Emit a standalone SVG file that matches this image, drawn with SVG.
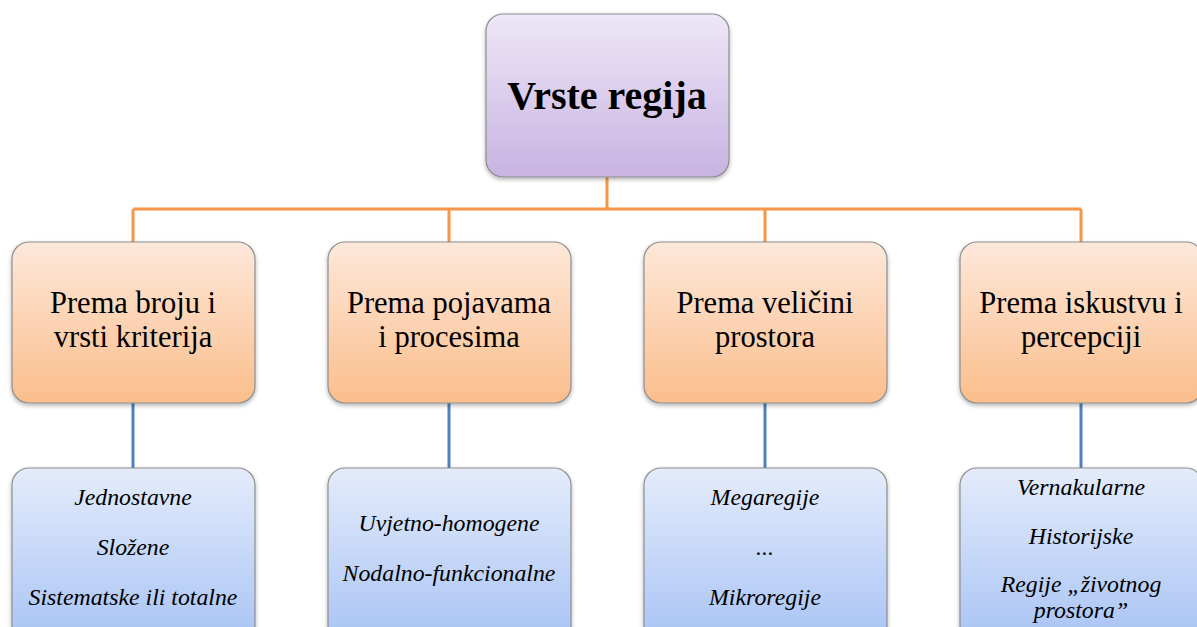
<svg xmlns="http://www.w3.org/2000/svg" width="1197" height="627" viewBox="0 0 1197 627">
<defs>
<linearGradient id="gP" x1="0" y1="0" x2="0" y2="1"><stop offset="0" stop-color="#EEE7F7"/><stop offset="1" stop-color="#C8B3E2"/></linearGradient>
<linearGradient id="gO" x1="0" y1="0" x2="0" y2="1"><stop offset="0" stop-color="#FDE8DA"/><stop offset="1" stop-color="#FBBE8C"/></linearGradient>
<linearGradient id="gB" x1="0" y1="0" x2="0" y2="1"><stop offset="0" stop-color="#E4ECFB"/><stop offset="1" stop-color="#A8C3F4"/></linearGradient>
<filter id="sh" x="-10%" y="-10%" width="120%" height="125%"><feDropShadow dx="0" dy="2" stdDeviation="2" flood-color="#000" flood-opacity="0.3"/></filter>
</defs>
<style>
.box{stroke:#8E8E8E;stroke-width:1.2;filter:url(#sh)}
text{font-family:"Liberation Serif","Times New Roman",serif;fill:#000;text-anchor:middle}
.t1{font-weight:bold;font-size:40px}
.t2{font-size:30.5px}
.t3{font-style:italic;font-size:23.8px}
.co{stroke:#F79646;stroke-width:3;fill:none}
.cb{stroke:#4F81BD;stroke-width:3;fill:none}
</style>
<rect width="1197" height="627" fill="#fff"/>
<g id="connectors">
<path class="co" d="M607 177V209M133 209H1081M133 209V242M449 209V242M765 209V242M1081 209V242"/>
<path class="cb" d="M133 403V468M449 403V468M765 403V468M1081 403V468"/>
</g>
<g id="root"><rect class="box" x="486" y="14" width="243" height="163" rx="17" fill="url(#gP)"/><text class="t1" x="607" y="109">Vrste regija</text></g>
<g id="n1"><rect class="box" x="12" y="242" width="243" height="161" rx="17" fill="url(#gO)"/><text class="t2" x="133" y="313">Prema broju i</text><text class="t2" x="133" y="347">vrsti kriterija</text></g>
<g id="n2"><rect class="box" x="328" y="242" width="243" height="161" rx="17" fill="url(#gO)"/><text class="t2" x="449" y="313">Prema pojavama</text><text class="t2" x="449" y="347">i procesima</text></g>
<g id="n3"><rect class="box" x="644" y="242" width="243" height="161" rx="17" fill="url(#gO)"/><text class="t2" x="765" y="313">Prema veličini</text><text class="t2" x="765" y="347">prostora</text></g>
<g id="n4"><rect class="box" x="960" y="242" width="243" height="161" rx="17" fill="url(#gO)"/><text class="t2" x="1081" y="313">Prema iskustvu i</text><text class="t2" x="1081" y="347">percepciji</text></g>
<g id="l1"><rect class="box" x="12" y="468" width="243" height="175" rx="17" fill="url(#gB)"/><text class="t3" x="133" y="505">Jednostavne</text><text class="t3" x="133" y="555">Složene</text><text class="t3" x="133" y="605">Sistematske ili totalne</text></g>
<g id="l2"><rect class="box" x="328" y="468" width="243" height="175" rx="17" fill="url(#gB)"/><text class="t3" x="449" y="531">Uvjetno-homogene</text><text class="t3" x="449" y="581">Nodalno-funkcionalne</text></g>
<g id="l3"><rect class="box" x="644" y="468" width="243" height="175" rx="17" fill="url(#gB)"/><text class="t3" x="765" y="505">Megaregije</text><text class="t3" x="765" y="555">...</text><text class="t3" x="765" y="605">Mikroregije</text></g>
<g id="l4"><rect class="box" x="960" y="468" width="243" height="175" rx="17" fill="url(#gB)"/><text class="t3" x="1081" y="495">Vernakularne</text><text class="t3" x="1081" y="544">Historijske</text><text class="t3" x="1081" y="592">Regije „životnog</text><text class="t3" x="1081" y="618">prostora”</text></g>
</svg>
